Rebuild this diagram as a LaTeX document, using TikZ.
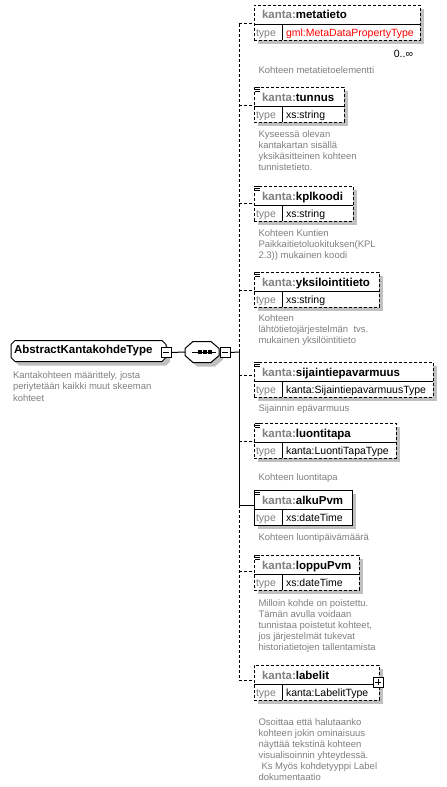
\documentclass[tikz,border=0pt]{standalone}
\usepackage{fontspec}
\setmainfont{Liberation Sans}
\definecolor{txtgray}{HTML}{808080}
\definecolor{shgray}{HTML}{C0C0C0}
\definecolor{typered}{HTML}{FF0000}
\pgfdeclarelayer{bg}
\pgfdeclarelayer{shadow}
\pgfsetlayers{bg,shadow,main}
\newcommand\descfont{\fontsize{9.5}{11.1}\selectfont}
\newcommand\typefont{\fontsize{10.5}{13}\selectfont}
\newcommand\headfont{\fontsize{11.5}{13}\selectfont\bfseries}
\tikzset{
  every node/.style={inner sep=0pt,outer sep=0pt},
  ebox/.style={draw,fill=white,line width=1pt,anchor=north west,minimum height=35pt},
  opt/.style={dash pattern=on 3pt off 2pt},
  req/.style={},
  conn/.style={line width=1pt},
  sepline/.style={line width=1pt},
  desc/.style={anchor=base west,text=txtgray,font=\descfont,align=left},
  head/.style={anchor=base west,font=\headfont},
  typelab/.style={anchor=base west,font=\typefont,text=txtgray},
  typeval/.style={anchor=base west,font=\typefont},
  pmbox/.style={draw,fill=white,line width=1pt,minimum size=10pt},
  shadowfill/.style={fill=shgray,transform canvas={xshift=4pt,yshift=-4pt}},
  outline/.style={draw,fill=white,line width=1pt},
}
\newcommand\chamf[3]{([xshift=#2]#1.north west) -- ([xshift=-#2]#1.north east) -- ([yshift=-#3]#1.north east) -- ([yshift=#3]#1.south east) -- ([xshift=-#2]#1.south east) -- ([xshift=#2]#1.south west) -- ([yshift=#3]#1.south west) -- ([yshift=-#3]#1.north west) -- cycle}
\newcommand\xelem[8]{%
  \node[ebox,#4,minimum width=#3pt] (#1) at (254,#2) {};
  \begin{pgfonlayer}{shadow}
    \fill[shgray] ([xshift=4pt,yshift=-4pt]#1.north west) rectangle ([xshift=4pt,yshift=-4pt]#1.south east);
  \end{pgfonlayer}
  \draw[sepline] ([yshift=-19pt]#1.north west) -- ([yshift=-19pt]#1.north east);
  \draw[sepline] ([xshift=28pt,yshift=-19pt]#1.north west) -- ([xshift=28pt]#1.south west);
  \node[head] (#1-name) at ([xshift=8pt,yshift=-14pt]#1.north west) {\textcolor{txtgray}{kanta:}#6};
  \node[typelab] (#1-tl) at ([xshift=2pt,yshift=-31pt]#1.north west) {type};
  \node[typeval,text=#8] (#1-tv) at ([xshift=32pt,yshift=-31pt]#1.north west) {#7};
}
\newcommand\docicon[1]{%
  \draw[line width=0.8pt] ([xshift=1pt,yshift=-0.5pt]#1.north west) -- ++(5pt,0pt)
     ([xshift=1pt,yshift=-2.5pt]#1.north west) -- ++(5pt,0pt)
     ([xshift=1pt,yshift=-4.5pt]#1.north west) -- ++(5pt,0pt);
}
\begin{document}
\begin{tikzpicture}[x=1pt,y=-1pt]
\useasboundingbox (0,0) rectangle (447,787);
\begin{pgfonlayer}{bg}
\fill[white] (0,0) rectangle (447,787);
\end{pgfonlayer}

% root element and sequence compositor
\node[minimum width=155pt,minimum height=21pt] (main) at (88.5,351) {};
\node[anchor=west,font=\headfont] (main-t) at ([xshift=3pt]main.west) {AbstractKantakohdeType};
\node[minimum width=34pt,minimum height=21pt] (seq) at (202,352) {};
\begin{pgfonlayer}{shadow}
  \fill[shadowfill] \chamf{main}{4pt}{4pt};
  \path[outline] \chamf{main}{4pt}{4pt};
  \fill[shadowfill] \chamf{seq}{8pt}{7pt};
  \path[outline] \chamf{seq}{8pt}{7pt};
\end{pgfonlayer}
\node[pmbox] (mminus) at (166,352.5) {};
\draw[line width=1pt] ([xshift=2pt]mminus.west) -- ([xshift=-2pt]mminus.east);
\draw[line width=1pt] ([xshift=-10pt]seq.center) -- ([xshift=14pt]seq.center);
\foreach \dx in {-2,3,8}
  \fill ([xshift=\dx pt]seq.center) ++(-1.6pt,-1.6pt) rectangle ++(3.2pt,3.2pt);
\node[pmbox] (sminus) at (225,352.5) {};
\draw[line width=1pt] ([xshift=2pt]sminus.west) -- ([xshift=-2pt]sminus.east);
\node[desc] (main-d) at (13,401) {Kantakohteen määrittely, josta\\periytetään kaikki muut skeeman\\kohteet};

% child elements
\xelem{metatieto}{5}{166}{opt}{}{metatieto}{gml:MetaDataPropertyType}{typered}
\xelem{tunnus}{87}{90}{opt}{}{tunnus}{xs:string}{black}
\xelem{kplkoodi}{186}{99}{opt}{}{kplkoodi}{xs:string}{black}
\xelem{yksilointitieto}{272}{125}{opt}{}{yksilointitieto}{xs:string}{black}
\xelem{sijaintiepavarmuus}{362}{179}{opt}{}{sijaintiepavarmuus}{kanta:SijaintiepavarmuusType}{black}
\xelem{luontitapa}{423}{142}{opt}{}{luontitapa}{kanta:LuontiTapaType}{black}
\xelem{alkuPvm}{490}{98}{req}{}{alkuPvm}{xs:dateTime}{black}
\xelem{loppuPvm}{555}{105}{opt}{}{loppuPvm}{xs:dateTime}{black}
\xelem{labelit}{665}{125}{opt}{}{labelit}{kanta:LabelitType}{black}
\docicon{tunnus}\docicon{kplkoodi}\docicon{yksilointitieto}\docicon{sijaintiepavarmuus}
\docicon{luontitapa}\docicon{alkuPvm}\docicon{loppuPvm}

\node[typeval,anchor=base east] (occ) at (413,57) {0..∞};
\node[pmbox] (lplus) at (378.3,682.3) {};
\draw[line width=1pt] ([xshift=2pt]lplus.west) -- ([xshift=-2pt]lplus.east)
  ([yshift=-2pt]lplus.north) -- ([yshift=2pt]lplus.south);

% descriptions (anchored at the baseline of the last line)
\node[desc] (metatieto-d) at (258.5,73) {Kohteen metatietoelementti};
\node[desc] (tunnus-d) at (258.5,170.3) {Kyseessä olevan\\kantakartan sisällä\\yksikäsitteinen kohteen\\tunnistetieto.};
\node[desc] (kplkoodi-d) at (258.5,258.2) {Kohteen Kuntien\\Paikkaitietoluokituksen(KPL\\2.3)) mukainen koodi};
\node[desc] (yksilointitieto-d) at (258.5,343.2) {Kohteen\\lähtötietojärjestelmän\ \ tvs.\\mukainen yksilöintitieto};
\node[desc] (sijaintiepavarmuus-d) at (258.5,411) {Sijainnin epävarmuus};
\node[desc] (luontitapa-d) at (258.5,480) {Kohteen luontitapa};
\node[desc] (alkuPvm-d) at (258.5,540) {Kohteen luontipäivämäärä};
\node[desc] (loppuPvm-d) at (258.5,650.4) {Milloin kohde on poistettu.\\Tämän avulla voidaan\\tunnistaa poistetut kohteet,\\jos järjestelmät tukevat\\historiatietojen tallentamista};
\node[desc] (labelit-d) at (258.5,780.5) {Osoittaa että halutaanko\\kohteen jokin ominaisuus\\näyttää tekstinä kohteen\\visualisoinnin yhteydessä.\\\hspace*{3pt}Ks Myös kohdetyyppi Label\\dokumentaatio};

% spine and connectors
\coordinate (jct) at (239,352);
\coordinate (s1) at (239,23);
\coordinate (s2) at (239,105);
\coordinate (s3) at (239,203);
\coordinate (s4) at (239,290);
\coordinate (s5) at (239,375);
\coordinate (s6) at (239,441);
\coordinate (s7) at (239,505);
\coordinate (s8) at (239,571);
\coordinate (s9) at (239,680);
\draw[conn] (mminus.east) -- (seq.west);
\draw[conn] (sminus.east) -- (jct);
\draw[conn,opt] (jct) -- (s1);
\draw[conn] (jct) -- (s7);
\draw[conn,opt] (s7) -- (s9);
\draw[conn,opt] (s1) -- (s1 -| metatieto.west);
\draw[conn,opt] (s2) -- (s2 -| tunnus.west);
\draw[conn,opt] (s3) -- (s3 -| kplkoodi.west);
\draw[conn,opt] (s4) -- (s4 -| yksilointitieto.west);
\draw[conn,opt] (s5) -- (s5 -| sijaintiepavarmuus.west);
\draw[conn,opt] (s6) -- (s6 -| luontitapa.west);
\draw[conn] (s7) -- (s7 -| alkuPvm.west);
\draw[conn,opt] (s8) -- (s8 -| loppuPvm.west);
\draw[conn,opt] (s9) -- (s9 -| labelit.west);
\end{tikzpicture}
\end{document}
